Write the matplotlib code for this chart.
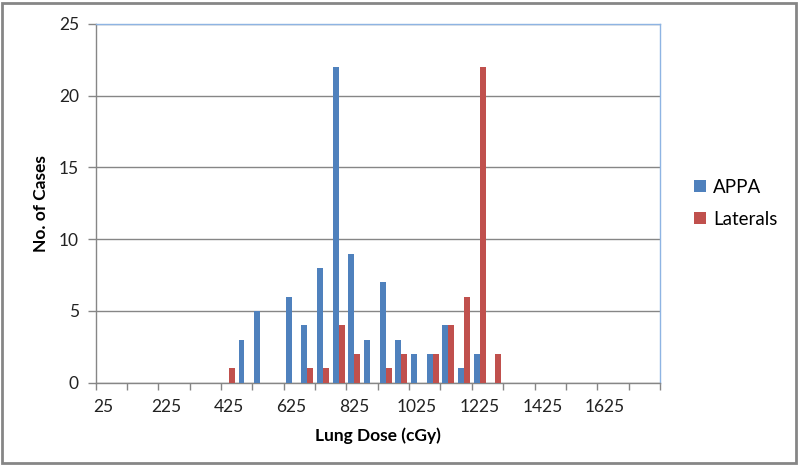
import numpy as np
import matplotlib
matplotlib.use("Agg")
from matplotlib import pyplot as plt
from matplotlib.patches import Rectangle

plt.rcParams['font.family'] = ['Lato', 'DejaVu Sans']

# dose bins (cGy), 25..1775 step 50
doses = [25, 75, 125, 175, 225, 275, 325, 375, 425, 475, 525, 575, 625, 675,
         725, 775, 825, 875, 925, 975, 1025, 1075, 1125, 1175, 1225, 1275,
         1325, 1375, 1425, 1475, 1525, 1575, 1625, 1675, 1725, 1775]
appa = [0, 0, 0, 0, 0, 0, 0, 0, 0, 3, 5, 0, 6, 4,
        8, 22, 9, 3, 7, 3, 2, 2, 4, 1, 2, 0,
        0, 0, 0, 0, 0, 0, 0, 0, 0, 0]
laterals = [0, 0, 0, 0, 0, 0, 0, 0, 1, 0, 0, 0, 0, 1,
            1, 4, 2, 0, 1, 2, 0, 2, 4, 6, 22, 2,
            0, 0, 0, 0, 0, 0, 0, 0, 0, 0]

blue = '#4F81BD'
red = '#C0504D'
grey = '#868686'

fig = plt.figure(figsize=(8, 4.66), dpi=100)
ax = fig.add_axes([0.1194, 0.1788, 0.7056, 0.7700])

x = np.arange(len(doses))
w = 0.38
ax.bar(x - w / 2, appa, w, color=blue, label='APPA', zorder=3)
ax.bar(x + w / 2, laterals, w, color=red, label='Laterals', zorder=3)

ax.set_xlim(-0.5, len(doses) - 0.5)
ax.set_ylim(0, 25)
ax.set_yticks([0, 5, 10, 15, 20, 25])
ax.yaxis.grid(True, color=grey, linewidth=1, zorder=0)

ax.set_xticks(x[::4])
ax.set_xticklabels([str(d) for d in doses[::4]])
ax.set_xticks(np.arange(-0.5, len(doses), 2), minor=True)
ax.tick_params(axis='x', which='major', length=0, pad=12, labelsize=12.5, colors='#222222')
ax.tick_params(axis='x', which='minor', length=5, color=grey, width=1)
ax.tick_params(axis='y', length=6, color=grey, width=1, pad=6, labelsize=12.5, labelcolor='#222222')

for s in ['left', 'bottom']:
    ax.spines[s].set_color(grey)
    ax.spines[s].set_linewidth(1)
for s in ['top', 'right']:
    ax.spines[s].set_color('#8EB4E3')
    ax.spines[s].set_linewidth(1)

ax.set_xlabel('Lung Dose (cGy)', fontsize=12.5, fontweight='bold', labelpad=9)
ax.set_ylabel('No. of Cases', fontsize=12.5, fontweight='bold', labelpad=7)

fig.legend(loc='upper left', bbox_to_anchor=(0.847, 0.652), frameon=False,
           fontsize=13.5, handlelength=0.6, handleheight=0.6, handletextpad=0.4,
           labelspacing=0.8)

# outer chart border
fig.patches.append(Rectangle((0.003, 0.006), 0.992, 0.987, transform=fig.transFigure,
                             fill=False, edgecolor=grey, linewidth=2))

fig.savefig('out.png', dpi=100)
